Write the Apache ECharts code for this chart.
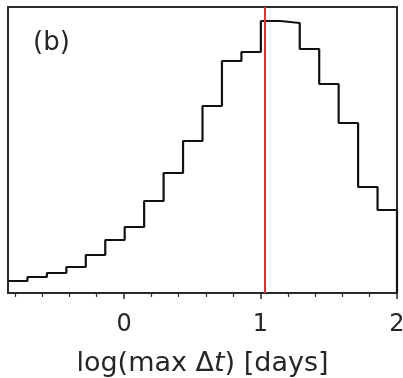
<!DOCTYPE html>
<html>
<head>
<meta charset="utf-8">
<script src="https://cdn.jsdelivr.net/npm/echarts@6/dist/echarts.min.js"></script>
<style>html,body{margin:0;padding:0;background:#fff}#c{width:403px;height:378px}</style>
</head>
<body>
<div id="c"></div>
<script>
// Histogram bin edges (log max Δt, days)
const binEdges = [-0.85, -0.7075, -0.565, -0.4225, -0.28, -0.1375, 0.005, 0.1475, 0.29, 0.4325, 0.575, 0.7175, 0.86, 1.0025, 1.145, 1.2875, 1.43, 1.5725, 1.715, 1.8575, 2.0];
// Histogram counts (arbitrary units) per bin
const binCounts = [12, 16, 20, 26, 38, 53, 66, 92, 120, 152, 187, 232, 241, 272, 270, 244, 209, 170, 106, 83];
// Vertical reference line
const refLineX = 1.03;
// Tick values
const majorTicks = [0, 1, 2];
const minorTicks = [-0.8, -0.6, -0.4, -0.2, 0.2, 0.4, 0.6, 0.8, 1.2, 1.4, 1.6, 1.8];

const stepData = [];
for (let i = 0; i < binCounts.length; i++) stepData.push([binEdges[i], binCounts[i]]);
stepData.push([binEdges[binEdges.length - 1], binCounts[binCounts.length - 1]]);
stepData.push([binEdges[binEdges.length - 1], 0]);

const font = 'DejaVu Sans';
const chart = echarts.init(document.getElementById('c'), null, {renderer: 'canvas'});
const xMin = -0.85, xMax = 2.0;
chart.setOption({
  animation: false,
  grid: {left: 8, right: 6, top: 7, bottom: 85, show: true, borderColor: '#2a2a2a', borderWidth: 2, backgroundColor: 'transparent', containLabel: false, outerBoundsMode: 'none'},
  xAxis: [
    {
      type: 'value', min: xMin, max: xMax, position: 'bottom',
      axisLine: {show: false},
      splitLine: {show: false},
      axisTick: {show: true, customValues: majorTicks, length: 6, inside: false, lineStyle: {color: '#2a2a2a', width: 1.5}},
      axisLabel: {show: true, customValues: majorTicks, margin: 20, fontFamily: font, fontSize: 24, color: '#262626', alignMinLabel: 'center', alignMaxLabel: 'center', hideOverlap: false},
      name: '{n|log(max Δ}{i|t}{n|) [days]}', nameLocation: 'middle', nameGap: 57,
      nameTextStyle: {fontFamily: font, fontSize: 27, color: '#262626', rich: {
        n: {fontFamily: font, fontSize: 27, color: '#262626'},
        i: {fontFamily: font, fontSize: 27, fontStyle: 'italic', color: '#262626'}
      }}
    },
    {
      type: 'value', min: xMin, max: xMax, position: 'bottom',
      axisLine: {show: false},
      splitLine: {show: false},
      axisTick: {show: true, customValues: minorTicks, length: 4, lineStyle: {color: '#2a2a2a', width: 1.2}},
      axisLabel: {show: false}
    }
  ],
  yAxis: {type: 'value', min: 0, max: 286, show: false},
  graphic: [{type: 'text', left: 33, top: 30, style: {text: '(b)', font: '26px "DejaVu Sans"', fill: '#262626'}}],
  series: [
    {
      type: 'line', step: 'end', data: stepData, xAxisIndex: 0, symbol: 'none',
      lineStyle: {color: '#111', width: 2.2}, z: 3,
      markLine: {
        silent: true, symbol: 'none', label: {show: false},
        lineStyle: {color: '#e8302a', width: 2, type: 'solid'},
        data: [{xAxis: refLineX}]
      }
    }
  ]
});
</script>
</body>
</html>
